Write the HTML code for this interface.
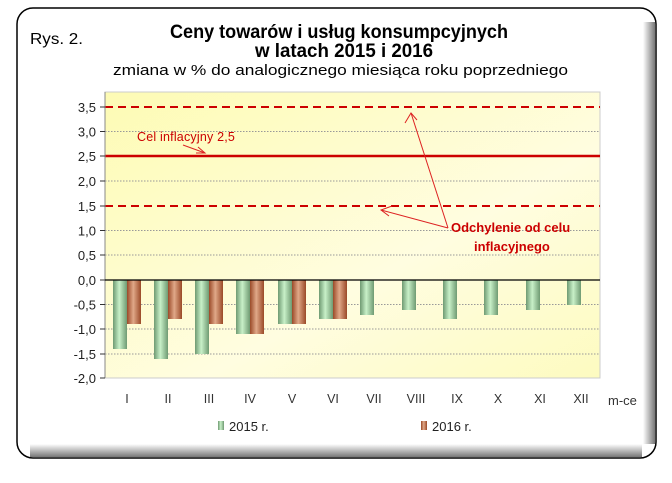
<!DOCTYPE html>
<html><head><meta charset="utf-8"><style>
html,body{margin:0;padding:0;background:#fff;}
svg{display:block;font-family:"Liberation Sans",sans-serif;}
</style></head><body>
<svg width="672" height="483" viewBox="0 0 672 483" xmlns="http://www.w3.org/2000/svg">
<defs>
<linearGradient id="bg" x1="0" y1="0" x2="1" y2="1">
<stop offset="0" stop-color="#fdfbb4"/><stop offset="0.6" stop-color="#fffde0"/><stop offset="1" stop-color="#fdfbc0"/></linearGradient>
<linearGradient id="gr" x1="0" y1="0" x2="1" y2="0">
<stop offset="0" stop-color="#6f9a72"/><stop offset="0.45" stop-color="#c8f0c8"/><stop offset="1" stop-color="#6f9a72"/></linearGradient>
<linearGradient id="br" x1="0" y1="0" x2="1" y2="0">
<stop offset="0" stop-color="#9a4a28"/><stop offset="0.45" stop-color="#e0a888"/><stop offset="1" stop-color="#9a4a28"/></linearGradient>
<linearGradient id="shr" x1="0" y1="0" x2="1" y2="0">
<stop offset="0" stop-color="#fff"/><stop offset="1" stop-color="#777"/></linearGradient>
<linearGradient id="shb" x1="0" y1="0" x2="0" y2="1">
<stop offset="0" stop-color="#fff"/><stop offset="1" stop-color="#777"/></linearGradient>
</defs>
<rect x="17" y="8" width="639" height="450" rx="16" fill="#fff" stroke="#000" stroke-width="1.5"/>
<rect x="643" y="22" width="12" height="422" fill="url(#shr)"/>
<rect x="30" y="444" width="612" height="13" fill="url(#shb)"/>
<text x="30" y="44" font-size="16" textLength="53" lengthAdjust="spacingAndGlyphs">Rys. 2.</text>
<text x="170" y="38" font-size="19" font-weight="bold" textLength="338" lengthAdjust="spacingAndGlyphs">Ceny towarów i usług konsumpcyjnych</text>
<text x="255" y="57" font-size="19" font-weight="bold" textLength="178" lengthAdjust="spacingAndGlyphs">w latach 2015 i 2016</text>
<text x="113" y="75" font-size="15" textLength="455" lengthAdjust="spacingAndGlyphs">zmiana w % do analogicznego miesiąca roku poprzedniego</text>
<rect x="105" y="92" width="495" height="286" fill="url(#bg)" stroke="#ccc"/>
<g stroke="#999" stroke-dasharray="1.5,1.5" stroke-width="1">
<line x1="105" x2="600" y1="131.5" y2="131.5"/><line x1="105" x2="600" y1="181" y2="181"/>
<line x1="105" x2="600" y1="230.5" y2="230.5"/><line x1="105" x2="600" y1="255" y2="255"/>
<line x1="105" x2="600" y1="304.5" y2="304.5"/><line x1="105" x2="600" y1="329" y2="329"/>
<line x1="105" x2="600" y1="354" y2="354"/>
</g>
<line x1="105" x2="600" y1="107" y2="107" stroke="#c00" stroke-width="2" stroke-dasharray="8,5"/>
<line x1="105" x2="600" y1="206" y2="206" stroke="#c00" stroke-width="2" stroke-dasharray="8,5"/>
<line x1="105" x2="600" y1="156" y2="156" stroke="#c00" stroke-width="2.5"/>
<line x1="105" x2="105" y1="92" y2="378" stroke="#888"/>
<g stroke="#333"><line x1="100" x2="105" y1="107" y2="107"/><line x1="100" x2="105" y1="131.5" y2="131.5"/><line x1="100" x2="105" y1="156" y2="156"/><line x1="100" x2="105" y1="181" y2="181"/><line x1="100" x2="105" y1="206" y2="206"/><line x1="100" x2="105" y1="230.5" y2="230.5"/><line x1="100" x2="105" y1="255" y2="255"/><line x1="100" x2="105" y1="280" y2="280"/><line x1="100" x2="105" y1="304.5" y2="304.5"/><line x1="100" x2="105" y1="329" y2="329"/><line x1="100" x2="105" y1="354" y2="354"/><line x1="100" x2="105" y1="378" y2="378"/></g>
<g font-size="13" text-anchor="end" fill="#222">
<text x="96" y="112">3,5</text><text x="96" y="136.5">3,0</text><text x="96" y="161">2,5</text><text x="96" y="186">2,0</text><text x="96" y="211">1,5</text><text x="96" y="235.5">1,0</text><text x="96" y="260">0,5</text><text x="96" y="285">0,0</text><text x="96" y="309.5">-0,5</text><text x="96" y="334">-1,0</text><text x="96" y="359">-1,5</text><text x="96" y="383">-2,0</text>
</g>
<g font-size="12.5" text-anchor="middle" fill="#333">
<text x="127" y="403">I</text><text x="168" y="403">II</text><text x="209" y="403">III</text><text x="250" y="403">IV</text><text x="292" y="403">V</text><text x="333" y="403">VI</text><text x="374" y="403">VII</text><text x="416" y="403">VIII</text><text x="457" y="403">IX</text><text x="498" y="403">X</text><text x="540" y="403">XI</text><text x="581" y="403">XII</text>
</g>
<text x="608" y="405" font-size="13" fill="#333">m-ce</text>
<rect x="218" y="421" width="6" height="9" fill="url(#gr)"/>
<text x="229" y="431" font-size="13" fill="#222">2015 r.</text>
<rect x="421" y="421" width="6" height="9" fill="url(#br)"/>
<text x="432" y="431" font-size="13" fill="#222">2016 r.</text>
<text x="137" y="141" font-size="12.5" fill="#c00" letter-spacing="0.2">Cel inflacyjny 2,5</text>
<g stroke="#d22" stroke-width="1" fill="none">
<line x1="183" y1="145" x2="205" y2="153"/><polyline points="198,147 205,153 196,153"/>
<line x1="448" y1="228" x2="411" y2="113"/><polyline points="405,123 411,113 417,120"/>
<line x1="448" y1="228" x2="381" y2="210"/><polyline points="392,206 381,210 389,216"/>
</g>
<text x="451" y="232" font-size="13" font-weight="bold" fill="#c00">Odchylenie od celu</text>
<text x="474" y="251" font-size="13" font-weight="bold" fill="#c00">inflacyjnego</text>
<g>
<rect x="113" y="280" width="14" height="69" fill="url(#gr)"/>
<rect x="154" y="280" width="14" height="79" fill="url(#gr)"/>
<rect x="195" y="280" width="14" height="74" fill="url(#gr)"/>
<rect x="236" y="280" width="14" height="54" fill="url(#gr)"/>
<rect x="278" y="280" width="14" height="44" fill="url(#gr)"/>
<rect x="319" y="280" width="14" height="39" fill="url(#gr)"/>
<rect x="360" y="280" width="14" height="35" fill="url(#gr)"/>
<rect x="402" y="280" width="14" height="30" fill="url(#gr)"/>
<rect x="443" y="280" width="14" height="39" fill="url(#gr)"/>
<rect x="484" y="280" width="14" height="35" fill="url(#gr)"/>
<rect x="526" y="280" width="14" height="30" fill="url(#gr)"/>
<rect x="567" y="280" width="14" height="25" fill="url(#gr)"/>
<rect x="127" y="280" width="14" height="44" fill="url(#br)"/>
<rect x="168" y="280" width="14" height="39" fill="url(#br)"/>
<rect x="209" y="280" width="14" height="44" fill="url(#br)"/>
<rect x="250" y="280" width="14" height="54" fill="url(#br)"/>
<rect x="292" y="280" width="14" height="44" fill="url(#br)"/>
<rect x="333" y="280" width="14" height="39" fill="url(#br)"/>
</g>
<line x1="105" x2="600" y1="280" y2="280" stroke="#000" stroke-width="1.2"/>
</svg>
</body></html>
